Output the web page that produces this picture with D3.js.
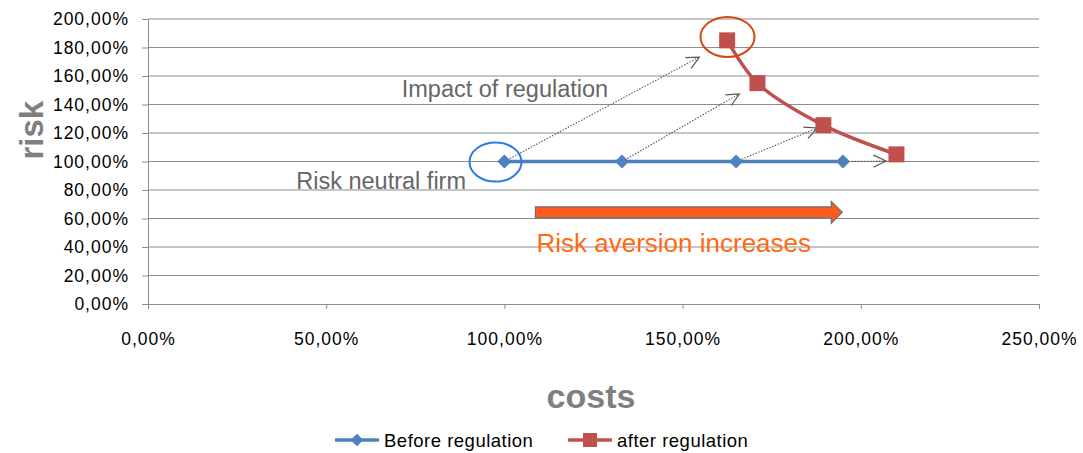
<!DOCTYPE html>
<html>
<head>
<meta charset="utf-8">
<script src="https://cdn.jsdelivr.net/npm/d3@7"></script>
<style>
  body { margin: 0; background: #fff; }
  svg { display: block; }
  .tick text { font-family: "Liberation Sans", Arial, sans-serif; font-size: 17.5px; letter-spacing: 1px; fill: #000; }
</style>
</head>
<body>
<div id="svg-container"></div>
<script>
////////////////////////////  Data  ////////////////////////////
const beforeCosts = [100, 133, 165, 195];
const beforeRisk = [100, 100, 100, 100];
const afterCosts = [162.5, 171, 189.5, 210];
const afterRisk = [185, 155, 125.5, 105];
const xTicks = [0, 50, 100, 150, 200, 250];
const yTicks = [0, 20, 40, 60, 80, 100, 120, 140, 160, 180, 200];
// dotted "impact" arrows: end points near the regulated points (data units)
const impactEndCosts = [154.7, 165.9, 187.8, 207.1];
const impactEndRisk = [173.3, 147.4, 123.5, 100.3];

const width = 1083, height = 453;
const margin = { top: 19, right: 44, bottom: 149, left: 148 };

const svg = d3.select("#svg-container").append("svg")
  .attr("width", width).attr("height", height);

const x = d3.scaleLinear().domain([0, 250]).range([margin.left, width - margin.right]);
const y = d3.scaleLinear().domain([0, 200]).range([height - margin.bottom, margin.top]);
const fmt = (d) => d3.format(".2f")(d).replace(".", ",") + "%";

// gridlines
svg.append("g")
  .selectAll("line")
  .data(yTicks.filter((d) => d > 0))
  .enter().append("line")
  .attr("x1", x(0)).attr("x2", x(250))
  .attr("y1", (d) => y(d)).attr("y2", (d) => y(d))
  .attr("stroke", "#8c8c8c").attr("stroke-width", 1);

// axes
const yAxis = svg.append("g")
  .attr("transform", `translate(${x(0)},0)`)
  .call(d3.axisLeft(y).tickValues(yTicks).tickFormat(fmt).tickSize(6).tickPadding(13));
const xAxis = svg.append("g")
  .attr("transform", `translate(0,${y(0)})`)
  .call(d3.axisBottom(x).tickValues(xTicks).tickFormat(fmt).tickSize(5).tickPadding(24));
[xAxis, yAxis].forEach((g) => {
  g.select(".domain").attr("stroke", "#8c8c8c");
  g.selectAll(".tick line").attr("stroke", "#8c8c8c");
});

// axis titles
svg.append("text")
  .attr("transform", `translate(43,${y(122)}) rotate(-90)`)
  .attr("text-anchor", "middle")
  .style("font-family", "Liberation Sans, Arial, sans-serif")
  .style("font-weight", "bold").style("font-size", "33px").style("fill", "#7f7f7f")
  .text("risk");
svg.append("text")
  .attr("x", 591).attr("y", 408)
  .attr("text-anchor", "middle")
  .style("font-family", "Liberation Sans, Arial, sans-serif")
  .style("font-weight", "bold").style("font-size", "34px").style("fill", "#7f7f7f")
  .text("costs");

// orange "risk aversion" arrow
const ax0 = x(108.7), ax1 = x(194.8), ay = y(64.3);
svg.append("path")
  .attr("d", `M${ax0},${ay - 5.5}H${ax1 - 11}V${ay - 11}L${ax1},${ay}L${ax1 - 11},${ay + 11}V${ay + 5.5}H${ax0}Z`)
  .attr("fill", "#fe5a1d").attr("stroke", "#6f6f6f").attr("stroke-width", 1.2);

// dotted impact arrows
const arrows = beforeCosts.map((c, i) => ({
  x1: x(c), y1: y(beforeRisk[i]), x2: x(impactEndCosts[i]), y2: y(impactEndRisk[i])
}));
svg.append("g").selectAll("line").data(arrows).enter().append("line")
  .attr("x1", (d) => d.x1).attr("y1", (d) => d.y1)
  .attr("x2", (d) => d.x2).attr("y2", (d) => d.y2)
  .attr("stroke", "#555").attr("stroke-width", 1.1).attr("stroke-dasharray", "1.5,1.5");
svg.append("g").selectAll("path").data(arrows).enter().append("path")
  .attr("d", (d) => {
    const a = Math.atan2(d.y2 - d.y1, d.x2 - d.x1), L = 14, w = 0.45;
    const p1 = [d.x2 - L * Math.cos(a - w), d.y2 - L * Math.sin(a - w)];
    const p2 = [d.x2 - L * Math.cos(a + w), d.y2 - L * Math.sin(a + w)];
    return `M${p1}L${d.x2},${d.y2}L${p2}`;
  })
  .attr("fill", "none").attr("stroke", "#555").attr("stroke-width", 1.2);

// series lines
const beforeData = beforeCosts.map((c, i) => [c, beforeRisk[i]]);
const afterData = afterCosts.map((c, i) => [c, afterRisk[i]]);
const line = d3.line().x((d) => x(d[0])).y((d) => y(d[1]));
svg.append("path").datum(beforeData).attr("d", line)
  .attr("fill", "none").attr("stroke", "#4f81bd").attr("stroke-width", 3.5);
svg.append("path").datum(afterData).attr("d", line.curve(d3.curveCatmullRom.alpha(0.5)))
  .attr("fill", "none").attr("stroke", "#c0504d").attr("stroke-width", 3.5);

svg.append("g").selectAll("path").data(beforeData).enter().append("path")
  .attr("transform", (d) => `translate(${x(d[0])},${y(d[1])}) rotate(45)`)
  .attr("d", "M-5,-5H5V5H-5Z").attr("fill", "#4f81bd");
svg.append("g").selectAll("rect").data(afterData).enter().append("rect")
  .attr("x", (d) => x(d[0]) - 8).attr("y", (d) => y(d[1]) - 8)
  .attr("width", 16).attr("height", 16).attr("fill", "#c0504d");

// ellipses
svg.append("ellipse")
  .attr("cx", x(97.5)).attr("cy", y(99.6)).attr("rx", 26).attr("ry", 19.5)
  .attr("fill", "none").attr("stroke", "#2a7de1").attr("stroke-width", 2);
svg.append("ellipse")
  .attr("cx", x(162.6)).attr("cy", y(187.4)).attr("rx", 27).attr("ry", 20)
  .attr("fill", "none").attr("stroke", "#d24a0e").attr("stroke-width", 2);

// annotation text
const note = (t, xv, yv, col, size) => svg.append("text")
  .attr("x", x(xv)).attr("y", y(yv))
  .style("font-family", "Liberation Sans, Arial, sans-serif")
  .style("font-size", size).style("fill", col).text(t);
note("Impact of regulation", 71.2, 145, "#666", "23.5px");
note("Risk neutral firm", 41.6, 81, "#666", "23.5px");
note("Risk aversion increases", 109, 36.5, "#ff6a13", "26px");

// legend
const lg = svg.append("g").attr("transform", "translate(0,440)");
const legendItems = [
  { name: "Before regulation", color: "#4f81bd", x0: 335, shape: "diamond" },
  { name: "after regulation", color: "#c0504d", x0: 568, shape: "square" }
];
legendItems.forEach((it) => {
  lg.append("line").attr("x1", it.x0).attr("x2", it.x0 + 44)
    .attr("stroke", it.color).attr("stroke-width", 3.5);
  if (it.shape === "diamond") {
    lg.append("path").attr("transform", `translate(${it.x0 + 22},0) rotate(45)`)
      .attr("d", "M-4.5,-4.5H4.5V4.5H-4.5Z").attr("fill", it.color);
  } else {
    lg.append("rect").attr("x", it.x0 + 15).attr("y", -7).attr("width", 14).attr("height", 14)
      .attr("fill", it.color);
  }
  lg.append("text").attr("x", it.x0 + 49).attr("y", 6.5)
    .style("font-family", "Liberation Sans, Arial, sans-serif")
    .style("font-size", "18.5px").style("letter-spacing", "0.5px")
    .style("fill", "#000").text(it.name);
});
</script>
</body>
</html>
